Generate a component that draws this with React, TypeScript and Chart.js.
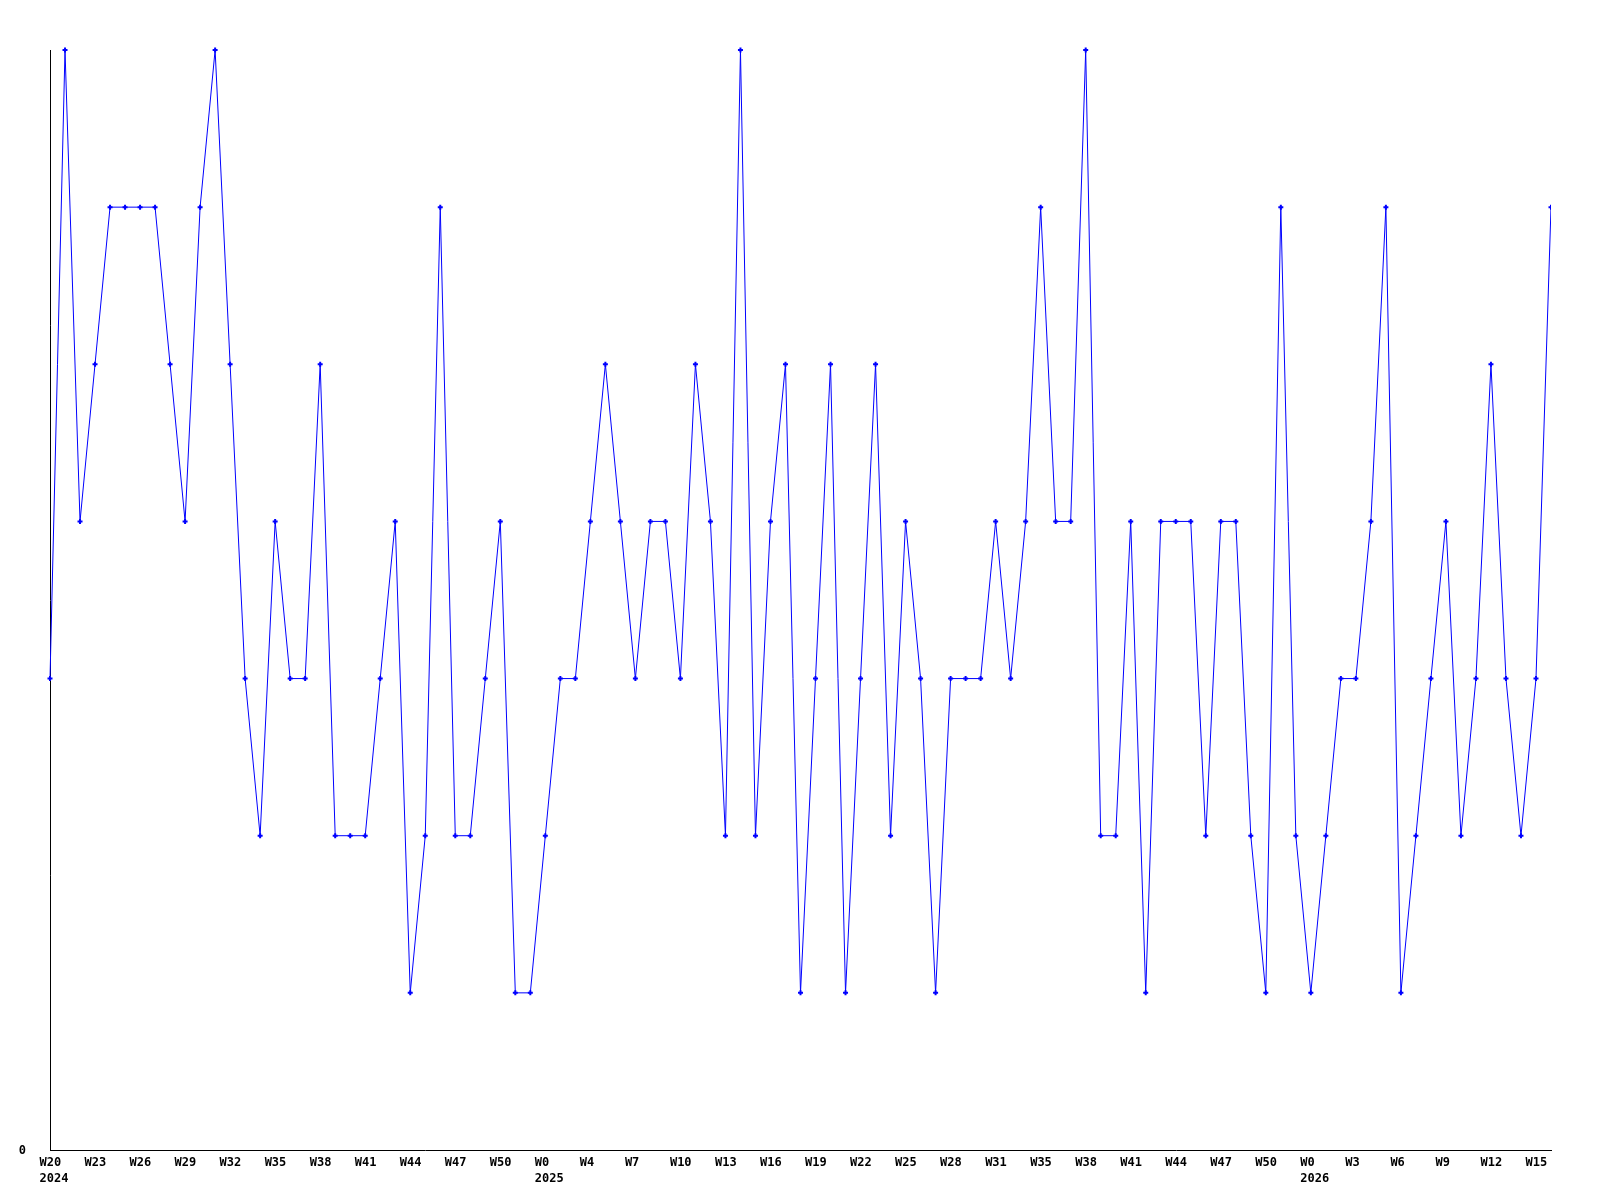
import React, { useEffect, useRef } from "react";
import { Chart, registerables } from "chart.js";

Chart.register(...registerables);

// Weekly values, W20 2024 onwards (101 weeks)
const values: number[] = [
  3, 7, 4, 5, 6, 6, 6, 6, 5, 4,
  6, 7, 5, 3, 2, 4, 3, 3, 5, 2,
  2, 2, 3, 4, 1, 2, 6, 2, 2, 3,
  4, 1, 1, 2, 3, 3, 4, 5, 4, 3,
  4, 4, 3, 5, 4, 2, 7, 2, 4, 5,
  1, 3, 5, 1, 3, 5, 2, 4, 3, 1,
  3, 3, 3, 4, 3, 4, 6, 4, 4, 7,
  2, 2, 4, 1, 4, 4, 4, 2, 4, 4,
  2, 1, 6, 2, 1, 2, 3, 3, 4, 6,
  1, 2, 3, 4, 2, 3, 5, 3, 2, 3,
  6,
];

// Tick labels shown every third week
const tickLabels: string[] = [
  "W20", "W23", "W26", "W29", "W32", "W35", "W38", "W41", "W44", "W47", "W50",
  "W0", "W4", "W7", "W10", "W13", "W16", "W19", "W22", "W25", "W28", "W31",
  "W35", "W38", "W41", "W44", "W47", "W50",
  "W0", "W3", "W6", "W9", "W12", "W15",
];

// Year labels placed under specific tick indices
const yearTickIndex: number[] = [0, 11, 28];
const yearLabels: string[] = ["2024", "2025", "2026"];

const tickStep = 3;
const yMax = 7;

export default function App() {
  const canvasRef = useRef<HTMLCanvasElement | null>(null);

  useEffect(() => {
    const canvas = canvasRef.current;
    if (!canvas) return;
    const font = { family: "'DejaVu Sans Mono', monospace", size: 12, weight: "bold" as const, lineHeight: 1.35 };
    const chart = new Chart(canvas, {
      type: "line",
      data: {
        labels: values.map((_, i) => String(i)),
        datasets: [
          {
            data: values,
            borderColor: "#0000ff",
            backgroundColor: "#0000ff",
            borderWidth: 1,
            tension: 0,
            pointStyle: "cross",
            pointRadius: 2.5,
            pointBorderWidth: 2,
            pointBorderColor: "#0000ff",
            fill: false,
            clip: { left: 5, top: 5, right: 0, bottom: 5 },
          },
        ],
      },
      options: {
        responsive: true,
        maintainAspectRatio: false,
        animation: false,
        layout: { padding: { left: 0, top: 50, right: 49, bottom: 0 } },
        plugins: { legend: { display: false }, tooltip: { enabled: false } },
        scales: {
          x: {
            type: "category",
            offset: false,
            grid: { display: false, drawTicks: false },
            border: { display: true, color: "#000", width: 1 },
            ticks: {
              autoSkip: false,
              maxRotation: 0,
              minRotation: 0,
              align: "start",
              labelOffset: -10.5,
              padding: 5,
              color: "#000",
              font,
              callback: (_v: any, index: number) => {
                if (index % tickStep !== 0) return "";
                const t = index / tickStep;
                const label = tickLabels[t];
                if (label === undefined) return "";
                const yi = yearTickIndex.indexOf(t);
                return yi >= 0 ? [label, yearLabels[yi]] : label;
              },
            },
            afterFit: (axis: any) => {
              axis.height = 50;
            },
          },
          y: {
            min: 0,
            max: yMax,
            grid: { display: false, drawTicks: false },
            border: { display: true, color: "#000", width: 1 },
            afterBuildTicks: (axis: any) => {
              axis.ticks = [{ value: 0 }];
            },
            ticks: {
              padding: 24,
              labelOffset: 1,
              color: "#000",
              font,
              callback: (v: any) => String(v),
            },
            afterFit: (axis: any) => {
              axis.width = 50;
            },
          },
        },
      },
    });
    return () => chart.destroy();
  }, []);

  return (
    <div style={{ position: "absolute", left: 0, top: 0, width: 1600, height: 1200, background: "#fff" }}>
      <canvas ref={canvasRef} />
    </div>
  );
}
